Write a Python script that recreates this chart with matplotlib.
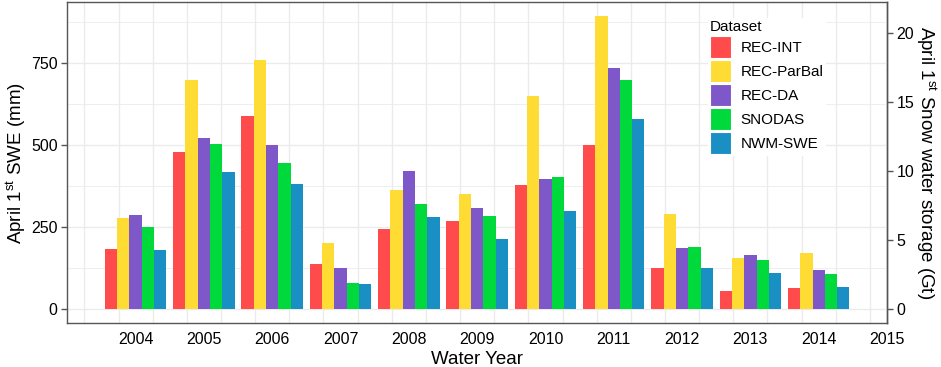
import matplotlib
matplotlib.use("Agg")
import matplotlib.pyplot as plt
import numpy as np
from matplotlib.patches import Patch

# April 1st SWE (mm)
years = [2004, 2005, 2006, 2007, 2008, 2009, 2010, 2011, 2012, 2013, 2014]
datasets = ["REC-INT", "REC-ParBal", "REC-DA", "SNODAS", "NWM-SWE"]
rec_int = [183, 477, 588, 138, 244, 267, 377, 500, 125, 54, 63]
rec_parbal = [277, 697, 758, 202, 362, 351, 648, 891, 288, 155, 170]
rec_da = [286, 521, 498, 124, 420, 307, 395, 733, 186, 164, 117]
snodas = [250, 503, 443, 78, 319, 283, 402, 698, 188, 149, 107]
nwm_swe = [180, 418, 381, 77, 281, 214, 299, 580, 124, 110, 67]
series = [rec_int, rec_parbal, rec_da, snodas, nwm_swe]
colors = ["#FF4B4B", "#FFDC34", "#7E57C8", "#00D93B", "#1A8FC3"]

xtick_labels = [str(y) for y in range(2004, 2016)]
y_ticks = [0, 250, 500, 750]
gt_ticks = [0, 5, 10, 15, 20]
MM_PER_GT = 42.0

plt.rcParams['font.family'] = ['Liberation Sans', 'DejaVu Sans']
plt.rcParams['mathtext.fontset'] = 'custom'
plt.rcParams['mathtext.rm'] = 'Liberation Sans'
plt.rcParams['mathtext.it'] = 'Liberation Sans:italic'

border = "#555555"
title_size = 13.5
tick_size = 11.5

fig = plt.figure(figsize=(9.41, 3.67), dpi=100)
ax = fig.add_axes([0.0715, 0.119, 0.8711, 0.8755])

width = 0.18
x = np.array(years, dtype=float)
for i, (vals, col) in enumerate(zip(series, colors)):
    ax.bar(x + (i - 2) * width, vals, width=width, color=col, linewidth=0)

ax.set_xlim(2003.0, 2015.0)
ax.set_ylim(-44, 935)

# grid
ax.set_xticks(range(2004, 2016))
ax.set_xticklabels(xtick_labels)
ax.set_xticks(np.arange(2003.25, 2015, 0.5), minor=True)
ax.set_yticks(y_ticks)
ax.set_yticks([125, 375, 625, 875], minor=True)
ax.set_axisbelow(True)
ax.grid(axis='x', which='minor', color="#EBEBEB", linewidth=1.0)
ax.grid(axis='y', which='major', color="#EBEBEB", linewidth=1.0)
ax.grid(axis='y', which='minor', color="#EBEBEB", linewidth=0.6)

ax.tick_params(axis='x', which='both', length=0, pad=6, labelsize=tick_size)
ax.tick_params(axis='y', which='major', length=4, width=1, color=border,
               labelsize=tick_size, pad=3)
ax.tick_params(axis='y', which='minor', length=0)
for s in ax.spines.values():
    s.set_color(border)
    s.set_linewidth(1.0)

ax.set_xlabel("Water Year", fontsize=title_size, labelpad=3)
ax.set_ylabel(r"April 1$^{\mathrm{st}}$ SWE (mm)", fontsize=title_size,
              labelpad=2)

sec = ax.secondary_yaxis('right', functions=(lambda v: v / MM_PER_GT,
                                             lambda v: v * MM_PER_GT))
sec.set_yticks(gt_ticks)
sec.tick_params(length=4, width=1, color=border, labelsize=tick_size, pad=3)
sec.spines['right'].set_color(border)
sec.spines['right'].set_linewidth(1.0)
sec.set_ylabel(r"April 1$^{\mathrm{st}}$ Snow water storage (Gt)",
               fontsize=title_size, rotation=-90, va='bottom', labelpad=0)

handles = [Patch(facecolor=c, edgecolor='white', linewidth=0.8) for c in colors]
leg = ax.legend(handles, datasets, title="Dataset", loc='upper left',
                bbox_to_anchor=(700 / 941, 1 - 10 / 367),
                bbox_transform=fig.transFigure, fontsize=11,
                title_fontsize=11, frameon=True, facecolor='white',
                edgecolor='none', framealpha=1, fancybox=False,
                handlelength=1.4, handleheight=1.85, handletextpad=0.6,
                labelspacing=0.12, borderpad=0.15, alignment='left')

fig.savefig("out.png", dpi=100)
